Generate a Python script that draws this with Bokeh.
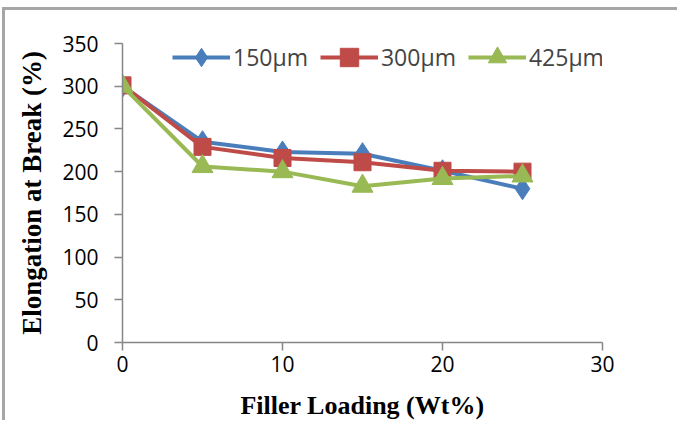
from bokeh.plotting import figure
from bokeh.embed import file_html
from bokeh.resources import INLINE
from bokeh.models import Legend, LegendItem, FixedTicker

filler = [0, 5, 10, 15, 20, 25]
s150 = [300, 235, 223, 221, 201, 180]
s300 = [301, 229, 216, 211, 201, 200]
s425 = [300, 206, 200, 183, 192, 195]
series_names = ["150µm", "300µm", "425µm"]
x_ticks = [0, 10, 20, 30]
y_ticks = [0, 50, 100, 150, 200, 250, 300, 350]
x_title = "Filler Loading (Wt%)"
y_title = "Elongation at Break (%)"

colors = ["#4a7ebb", "#be4b48", "#98b954"]

p = figure(width=675, height=413, output_backend="svg", toolbar_location=None,
           x_range=(0, 30), y_range=(0, 350),
           min_border_left=117, min_border_right=78, min_border_top=33, min_border_bottom=81)
p.styles = {"border-top": "3px solid #a6a6a6", "border-left": "3px solid #a6a6a6",
            "margin-top": "7px", "margin-left": "2px"}
p.outline_line_color = None
p.xgrid.visible = False
p.ygrid.visible = False

for ax in (p.xaxis, p.yaxis):
    ax.axis_line_color = "#868686"
    ax.axis_line_width = 1.5
    ax.major_tick_line_color = "#868686"
    ax.major_tick_line_width = 1.5
    ax.major_tick_out = 8
    ax.major_tick_in = 0
    ax.minor_tick_line_color = None
    ax.major_label_text_font = "Open Sans"
    ax.major_label_text_font_size = "21px"
    ax.major_label_text_color = "#000000"
    ax.axis_label_text_font = "Liberation Serif"
    ax.axis_label_text_font_style = "bold"
    ax.axis_label_text_color = "#000000"

p.xaxis.axis_label_text_font_size = "26px"
p.yaxis.axis_label_text_font_size = "27px"
p.xaxis.ticker = FixedTicker(ticks=x_ticks)
p.yaxis.ticker = FixedTicker(ticks=y_ticks)
p.xaxis.axis_label = x_title
p.yaxis.axis_label = y_title
p.xaxis.major_label_standoff = 5
p.yaxis.major_label_standoff = 16
p.xaxis.axis_label_standoff = 16
p.yaxis.axis_label_standoff = 12

l1 = p.line(filler, s150, line_color=colors[0], line_width=4)
m1 = p.scatter(filler, s150, marker="diamond", size=22, fill_color=colors[0], line_color=colors[0])
l2 = p.line(filler, s300, line_color=colors[1], line_width=4)
m2 = p.scatter(filler, s300, marker="square", size=17, fill_color=colors[1], line_color=colors[1])
l3 = p.line(filler, s425, line_color=colors[2], line_width=4)
m3 = p.scatter(filler, s425, marker="triangle", size=21, fill_color=colors[2], line_color=colors[2])

items = [LegendItem(label=series_names[0], renderers=[l1, m1]),
         LegendItem(label=series_names[1], renderers=[l2, m2]),
         LegendItem(label=series_names[2], renderers=[l3, m3])]
legend = Legend(items=items, orientation="horizontal", location=(50, 262),
                glyph_width=58, glyph_height=46, label_text_font="Open Sans",
                label_text_font_size="23px", label_standoff=3, spacing=12,
                background_fill_alpha=0, border_line_color=None, padding=0, margin=0)
p.add_layout(legend, "center")

open("out.html", "w").write(file_html(p, INLINE))
